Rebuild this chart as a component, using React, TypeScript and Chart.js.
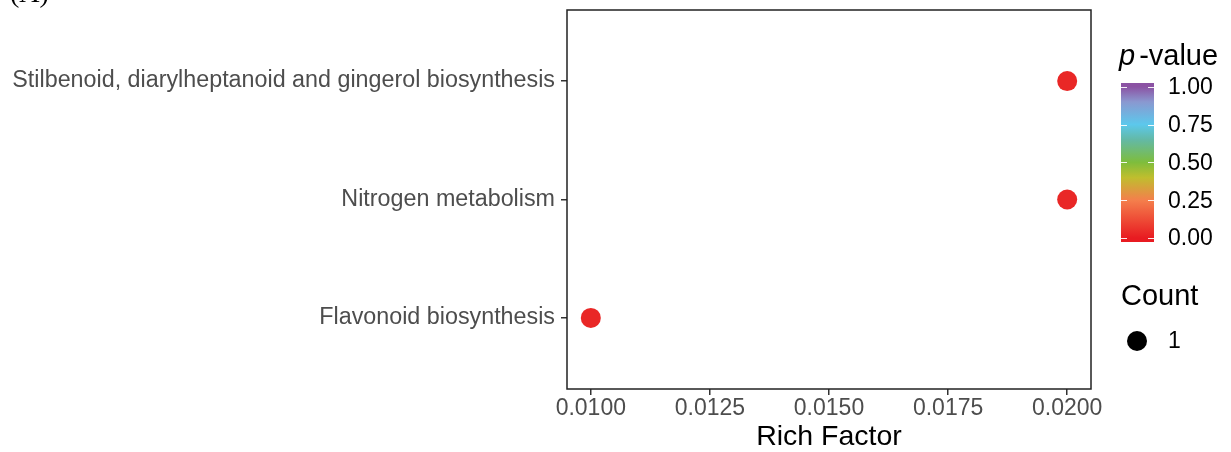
import React, { useEffect, useRef } from "react";
import { Chart, registerables } from "chart.js";

Chart.register(...registerables);

const pathways = [
  "Stilbenoid, diarylheptanoid and gingerol biosynthesis",
  "Nitrogen metabolism",
  "Flavonoid biosynthesis",
];
const richFactor = [0.02, 0.02, 0.01];
const pValues = [0.03, 0.03, 0.03];
const counts = [1, 1, 1];
const xTicks = [0.01, 0.0125, 0.015, 0.0175, 0.02];
const legendTicks = [0, 0.25, 0.5, 0.75, 1];
const countLegend = [1];

const colorStops: [number, string][] = [
  [0, "#E81B21"],
  [0.25, "#F47F4C"],
  [0.4, "#BFBE2E"],
  [0.5, "#7EBD3C"],
  [0.65, "#63B9A6"],
  [0.75, "#5CC8EC"],
  [0.9, "#8A98D0"],
  [1, "#8B52A3"],
];

function hexToRgb(h: string) {
  const n = parseInt(h.slice(1), 16);
  return [(n >> 16) & 255, (n >> 8) & 255, n & 255];
}
function pColor(p: number) {
  for (let i = 0; i < colorStops.length - 1; i++) {
    const [a, ca] = colorStops[i];
    const [b, cb] = colorStops[i + 1];
    if (p >= a && p <= b) {
      const t = (p - a) / (b - a);
      const A = hexToRgb(ca), B = hexToRgb(cb);
      const c = A.map((v, k) => Math.round(v + (B[k] - v) * t));
      return `rgb(${c[0]},${c[1]},${c[2]})`;
    }
  }
  return colorStops[colorStops.length - 1][1];
}

const FONT = "'Liberation Sans', Arial, sans-serif";

const decorPlugin = {
  id: "decor",
  afterDatasetsDraw(chart: any) {
    const { ctx, chartArea } = chart;
    ctx.save();
    // panel border
    ctx.strokeStyle = "#222222";
    ctx.lineWidth = 1.5;
    ctx.strokeRect(chartArea.left, chartArea.top, chartArea.right - chartArea.left, chartArea.bottom - chartArea.top);

    // (A) label, mostly cut off
    ctx.fillStyle = "#000";
    ctx.font = "28px 'Liberation Serif', 'Times New Roman', serif";
    ctx.textBaseline = "alphabetic";
    ctx.textAlign = "left";
    ctx.fillText("(A)", 10, 2);

    // p-value legend title
    ctx.font = `italic 29px ${FONT}`;
    ctx.textBaseline = "middle";
    ctx.fillText("p", 1119, 57);
    const pw = ctx.measureText("p").width;
    ctx.font = `29px ${FONT}`;
    ctx.fillText("-value", 1119 + pw + 4, 57);

    // colour bar
    const x0 = 1121, x1 = 1154;
    const y0v = 238, y1v = 86.7; // value 0 and value 1 positions
    const barTop = 83, barBot = 242;
    const vToY = (v: number) => y0v + (y1v - y0v) * v;
    const grad = ctx.createLinearGradient(0, vToY(0), 0, vToY(1));
    colorStops.forEach(([s, c]) => grad.addColorStop(s, c));
    ctx.fillStyle = grad;
    ctx.fillRect(x0, barTop, x1 - x0, barBot - barTop);
    ctx.strokeStyle = "rgba(255,255,255,0.9)";
    ctx.lineWidth = 1;
    legendTicks.forEach((v) => {
      const y = Math.round(vToY(v)) + 0.5;
      ctx.beginPath();
      ctx.moveTo(x0, y); ctx.lineTo(x0 + 6, y);
      ctx.moveTo(x1 - 6, y); ctx.lineTo(x1, y);
      ctx.stroke();
    });
    ctx.fillStyle = "#000";
    ctx.font = `23px ${FONT}`;
    ctx.textBaseline = "middle";
    legendTicks.forEach((v) => {
      ctx.fillText(v.toFixed(2), 1168, vToY(v) + 1);
    });

    // Count legend
    ctx.fillStyle = "#000";
    ctx.font = `29px ${FONT}`;
    ctx.fillText("Count", 1121, 297);
    countLegend.forEach((c, i) => {
      const y = 341 + i * 30;
      ctx.beginPath();
      ctx.arc(1137, y, 10, 0, Math.PI * 2);
      ctx.fillStyle = "#000";
      ctx.fill();
      ctx.font = `23px ${FONT}`;
      ctx.fillText(String(c), 1168, y + 1);
    });
    ctx.restore();
  },
};

export default function App() {
  const ref = useRef<HTMLCanvasElement>(null);
  useEffect(() => {
    const n = pathways.length;
    const chart = new Chart(ref.current!, {
      type: "scatter",
      data: {
        datasets: [
          {
            data: pathways.map((_, i) => ({ x: richFactor[i], y: n - i })),
            pointRadius: counts.map((c) => 10 * Math.sqrt(c)),
            pointBackgroundColor: pValues.map(pColor),
            pointBorderWidth: 0,
            pointHoverRadius: counts.map((c) => 10 * Math.sqrt(c)),
          } as any,
        ],
      },
      options: {
        animation: false,
        responsive: false,
        events: [],
        layout: { padding: { top: 8, right: 140, left: 0, bottom: 0 } },
        plugins: { legend: { display: false }, tooltip: { enabled: false } },
        scales: {
          x: {
            type: "linear",
            min: 0.0095,
            max: 0.0205,
            afterBuildTicks: (s: any) => {
              s.ticks = xTicks.map((v) => ({ value: v }));
            },
            afterFit: (s: any) => {
              s.height = 63;
            },
            ticks: {
              color: "#4D4D4D",
              font: { family: FONT, size: 23 },
              padding: 0,
              maxRotation: 0,
              callback: (v: any) => Number(v).toFixed(4),
            },
            grid: { display: true, drawOnChartArea: false, drawTicks: true, tickLength: 6, color: "#333333", lineWidth: 1.5 },
            border: { display: false },
            title: { display: true, text: "Rich Factor", color: "#000", font: { family: FONT, size: 28.5 }, padding: { top: 0, bottom: -2 } },
          },
          y: {
            type: "linear",
            min: 0.4,
            max: n + 0.6,
            afterBuildTicks: (s: any) => {
              s.ticks = pathways.map((_, i) => ({ value: n - i }));
            },
            afterFit: (s: any) => {
              s.width = 567;
              s.paddingTop = 0;
              s.paddingBottom = 0;
            },
            ticks: {
              color: "#4D4D4D",
              font: { family: FONT, size: 23.3 },
              padding: 6,
              callback: (v: any) => pathways[n - Number(v)] ?? "",
            },
            grid: { display: true, drawOnChartArea: false, drawTicks: true, tickLength: 6, color: "#333333", lineWidth: 1.5 },
            border: { display: false },
          },
        },
      },
      plugins: [decorPlugin],
    });
    return () => chart.destroy();
  }, []);
  return (
    <div style={{ position: "absolute", left: 0, top: 0, width: 1231, height: 452, background: "#fff" }}>
      <canvas ref={ref} width={1231} height={452} style={{ width: 1231, height: 452, display: "block" }} />
    </div>
  );
}
